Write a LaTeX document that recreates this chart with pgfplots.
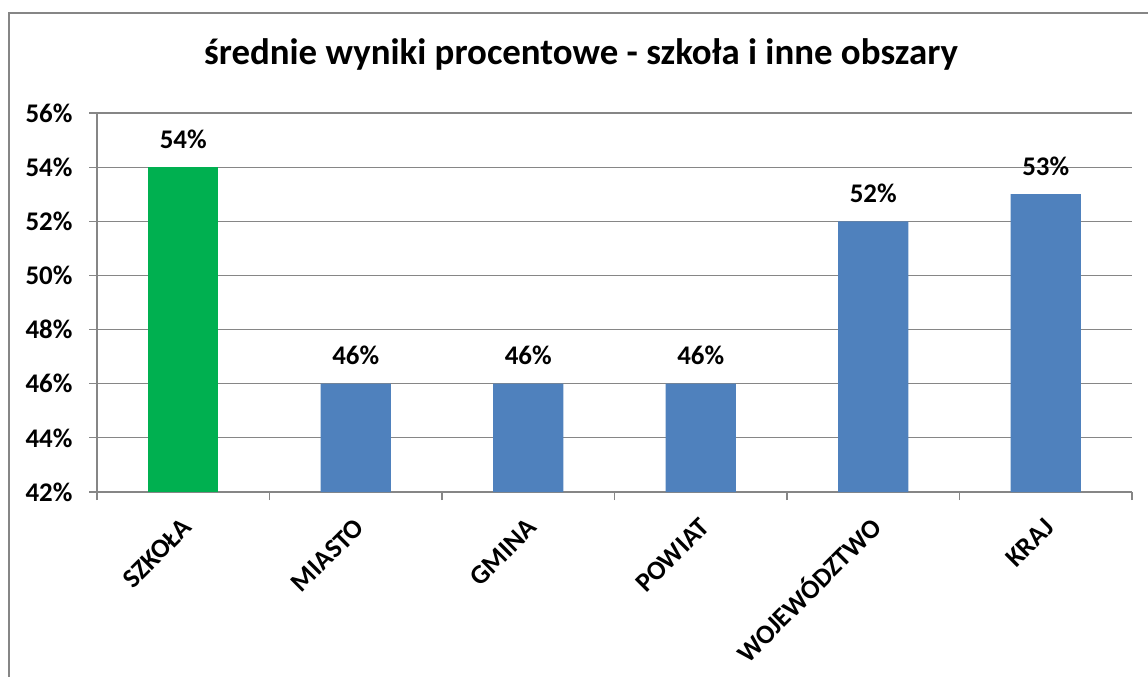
\documentclass[border=0pt]{standalone}
\usepackage{pgfplots}
\pgfplotsset{compat=1.18}
\usepackage{fontspec}
\setmainfont{Carlito}
\definecolor{gridgray}{HTML}{868686}
\definecolor{barblue}{HTML}{4F81BD}
\definecolor{bargreen}{HTML}{00B050}
\begin{document}
\begin{tikzpicture}[x=1bp,y=1bp]
\path[use as bounding box] (0,0) rectangle (1148,-677);
\begin{scope}
\clip (0,0) rectangle (1148,-677);
\draw[gridgray, line width=2.4bp] (9,-700) -- (9,-13) -- (1200,-13);
\end{scope}
\node[anchor=base, font=\fontsize{37}{42}\selectfont\bfseries] at (581,-65) {średnie wyniki procentowe - szkoła i inne obszary};
\begin{axis}[
  at={(97bp,-492bp)}, anchor=south west,
  scale only axis, width=1035bp, height=379bp,
  xmin=0, xmax=6, ymin=42, ymax=56,
  ybar, bar shift=0pt, bar width=0.406,
  axis x line*=bottom, axis y line*=left,
  axis line style={gridgray, line width=1.2bp},
  every outer x axis line/.append style={-}, every outer y axis line/.append style={-},
  ytick={42,44,...,56},
  yticklabels={42\%,44\%,46\%,48\%,50\%,52\%,54\%,56\%},
  ymajorgrids, grid style={gridgray, line width=1.2bp},
  xtick={0,...,6}, xticklabels={},
  tick align=outside, major tick length=8bp,
  tick style={gridgray, line width=1.2bp},
  extra x ticks={0.5,1.5,2.5,3.5,4.5,5.5},
  extra x tick labels={SZKOŁA,MIASTO,GMINA,POWIAT,WOJEWÓDZTWO,KRAJ},
  extra x tick style={major tick length=0pt, xticklabel style={xshift=-2bp, yshift=-25bp, rotate=45, anchor=north east, inner sep=0pt, text height=17bp, text depth=0pt}},
  ticklabel style={font=\fontsize{27}{32}\selectfont\bfseries},
  yticklabel style={xshift=-13bp},
  nodes near coords={\pgfmathprintnumber[assume math mode=true]{\pgfplotspointmeta}\%},
  every node near coord/.append style={font=\fontsize{27}{32}\selectfont\bfseries, anchor=base, yshift=19bp, inner sep=0pt},
  clip=false,
]
\addplot[fill=bargreen, draw=none] coordinates {(0.5,54)};
\addplot[fill=barblue, draw=none] coordinates {(1.5,46) (2.5,46) (3.5,46) (4.5,52) (5.5,53)};
\end{axis}
\end{tikzpicture}
\end{document}
